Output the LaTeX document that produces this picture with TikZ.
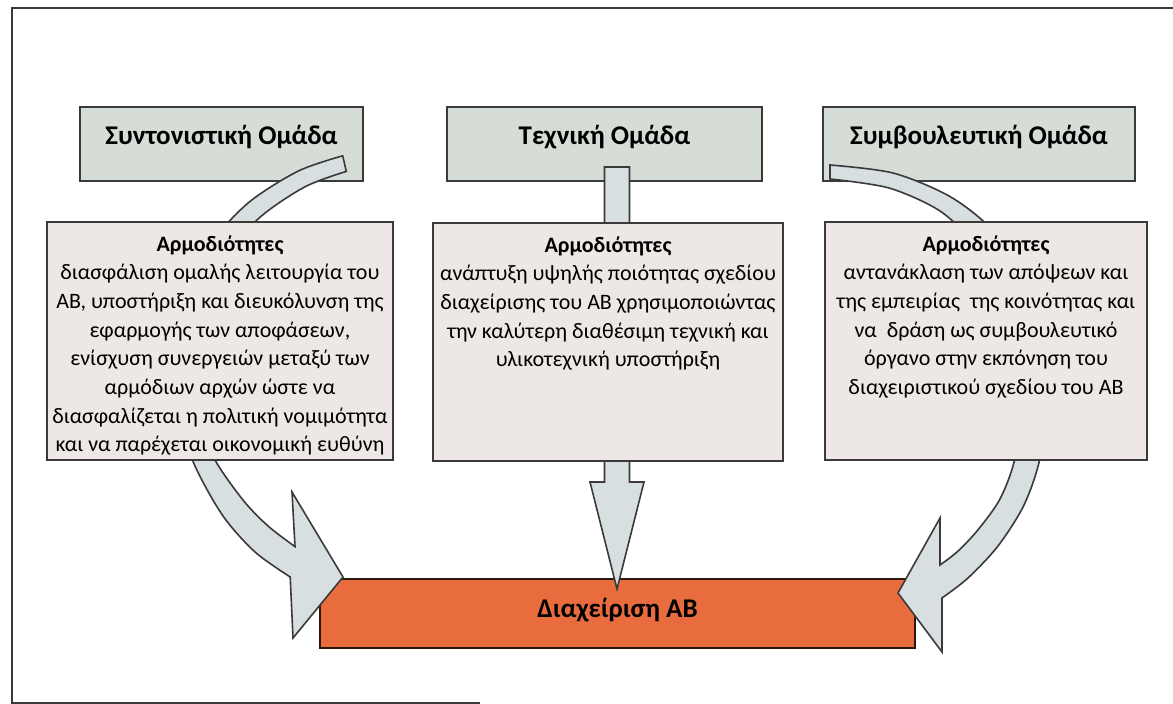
\documentclass[tikz,border=0pt]{standalone}
\usepackage{fontspec}
\setmainfont{Carlito}
\usetikzlibrary{positioning,calc}

\definecolor{teamfill}{HTML}{D5DDD6}
\definecolor{jobfill}{HTML}{EDE8E5}
\definecolor{mgmtfill}{HTML}{E96C3E}
\definecolor{arrowfill}{HTML}{D8DFE1}
\definecolor{edgegray}{HTML}{3A3A3A}

\begin{document}
\begin{tikzpicture}[
        x=0.5pt, y=-0.5pt,
        team/.style={
                rectangle,
                draw=edgegray,
                fill=teamfill,
                line width=1pt,
                minimum height=37pt,
                text height=10pt,
                text depth=9pt,
                font=\fontsize{13.5}{16}\selectfont\bfseries
            },
        job/.style={
                rectangle,
                draw=edgegray,
                fill=jobfill,
                line width=1pt,
                minimum height=119pt
            },
        jobtext/.style={
                align=center,
                inner sep=0pt,
                font=\fontsize{11}{14.35}\selectfont
            },
        mgmt/.style={
                rectangle,
                draw=black!80!mgmtfill,
                fill=mgmtfill,
                line width=1pt,
                minimum width=297.5pt,
                minimum height=34.5pt,
                text height=10pt,
                text depth=5.5pt,
                font=\fontsize{13.5}{16}\selectfont\bfseries
            },
        bigarrow/.style={
                draw=edgegray,
                fill=arrowfill,
                line width=0.8pt
            },
        frame/.style={
                draw=edgegray,
                line width=1pt
            }
    ]
    \fill[white] (0,0) rectangle (1173,704);
    \useasboundingbox (0,0) rectangle (1173,704);
    \draw[frame] (480,703) -- (12,703) -- (12,8) -- (1173,8);

    \node[team, minimum width=141.5pt] (lead) at (221.5,144) {Συντονιστική Ομάδα};
    \node[team, minimum width=157.5pt] (tech) at (604.5,144) {Τεχνική Ομάδα};
    \node[team, minimum width=156pt] (advice) at (979,144) {Συμβουλευτική Ομάδα};
    \node[mgmt] (manage) at (617.5,613.5) {Διαχείριση ΑΒ};

    % middle arrow, straight down
    \coordinate (tip) at ([xshift=-0.25pt,yshift=-5.5pt]manage.north);
    \coordinate (tail) at ($(tip |- tech.south)+(0,7.5pt)$);
    \draw[bigarrow] ($(tail)+(-6.25pt,0)$) -- ($(tail)+(6.25pt,0)$) -- ($(tip)+(6.25pt,53.5pt)$)
        -- ($(tip)+(13.5pt,53.5pt)$) -- (tip) -- ($(tip)+(-13.5pt,53.5pt)$) -- ($(tip)+(-6.25pt,53.5pt)$) -- cycle;

    % left curved arrow
    \draw[bigarrow] plot[smooth] coordinates {(342.7,155.8) (298.0,171.2) (248.2,202.9) (208.4,246.4) (181.1,298.7) (172,356) (178,415) (195,466) (223,516) (255,552) (290.2,577.0)}
        -- (293,638) -- (343,577) -- (292,492) -- (295.0,546.6)
        -- plot[smooth] coordinates {(295.0,546.6) (268,526) (243,500) (214,458) (198,411) (192,358) (201.2,306.0) (224.7,257.8) (260.2,217.1) (305.2,186.7) (346.3,171.4)} -- cycle;

    % right curved arrow
    \draw[bigarrow] plot[smooth] coordinates {(830,165) (893,173) (949,196) (990,228) (1020,275) (1038,330) (1045,400) (1040,458) (1024,505) (998,546) (968,578) (942,598)}
        -- (942,652) -- (898,593) -- (940,518) -- (940,565)
        -- plot[smooth] coordinates {(940,565) (957,552) (977,531) (1000,499) (1015,458) (1021,400) (1015,340) (1000,290) (975,245) (940,211) (889,188) (830,179)} -- cycle;

    \node[job, minimum width=173pt, below=19.5pt of lead, xshift=-0.75pt] (leadjob) {};
    \node[job, minimum width=175pt, below=20pt of tech, xshift=1.75pt] (techjob) {};
    \node[job, minimum width=161pt, below=19.5pt of advice, xshift=3.5pt] (advicejob) {};

    \node[jobtext, below=7pt of leadjob.north] (leadtext) {\textbf{Αρμοδιότητες}\\
        διασφάλιση ομαλής λειτουργία του\\
        ΑΒ, υποστήριξη και διευκόλυνση της\\
        εφαρμογής των αποφάσεων,\\
        ενίσχυση συνεργειών μεταξύ των\\
        αρμόδιων αρχών ώστε να\\
        διασφαλίζεται η πολιτική νομιμότητα\\
        και να παρέχεται οικονομική ευθύνη};
    \node[jobtext, below=7pt of techjob.north] (techtext) {\textbf{Αρμοδιότητες}\\
        ανάπτυξη υψηλής ποιότητας σχεδίου\\
        διαχείρισης του ΑΒ χρησιμοποιώντας\\
        την καλύτερη διαθέσιμη τεχνική και\\
        υλικοτεχνική υποστήριξη};
    \node[jobtext, below=7pt of advicejob.north] (advicetext) {\textbf{Αρμοδιότητες}\\
        αντανάκλαση των απόψεων και\\
        της εμπειρίας\ \ της κοινότητας και\\
        να\ \ δράση ως συμβουλευτικό\\
        όργανο στην εκπόνηση του\\
        διαχειριστικού σχεδίου του ΑΒ};
\end{tikzpicture}
\end{document}
